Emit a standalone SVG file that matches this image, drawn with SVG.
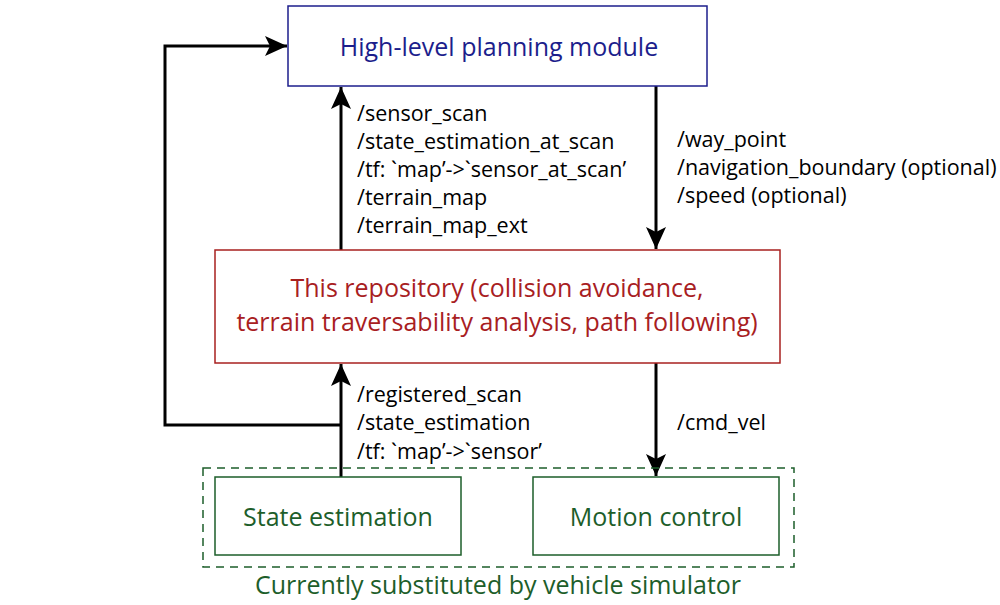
<svg xmlns="http://www.w3.org/2000/svg" width="1000" height="605" viewBox="0 0 1000 605">
<defs>
<marker id="arr" viewBox="0 0 22 20" refX="22" refY="10" markerWidth="22" markerHeight="20" markerUnits="userSpaceOnUse" orient="auto">
<path d="M0,0 L22,10 L0,20 L5,10 Z" fill="#000"/>
</marker>
<style>
.lbl{font-family:"Open Sans","Noto Sans",sans-serif;font-size:21.5px;fill:#000}
.box{fill:#fff;stroke-width:1.5}
.con{fill:none;stroke:#000;stroke-width:3}
.ttl{font-family:"Open Sans","Noto Sans",sans-serif;font-size:25px;text-anchor:middle}
</style>
</defs>
<rect width="1000" height="605" fill="#fff"/>
<g id="connectors">
<polyline class="con" points="341,425 165,425 165,46 287,46" marker-end="url(#arr)"/>
<line class="con" x1="341" y1="477" x2="341" y2="364" marker-end="url(#arr)"/>
<line class="con" x1="341" y1="250" x2="341" y2="87" marker-end="url(#arr)"/>
<line class="con" x1="656" y1="86" x2="656" y2="249" marker-end="url(#arr)"/>
<line class="con" x1="656" y1="363" x2="656" y2="476" marker-end="url(#arr)"/>
</g>
<g id="labels">
<text x="357" y="121" class="lbl">/sensor_scan</text>
<text x="357" y="149" class="lbl">/state_estimation_at_scan</text>
<text x="357" y="177" class="lbl">/tf: `map’-&gt;`sensor_at_scan’</text>
<text x="357" y="205" class="lbl">/terrain_map</text>
<text x="357" y="233" class="lbl">/terrain_map_ext</text>
<text x="677" y="147" class="lbl">/way_point</text>
<text x="677" y="175" class="lbl">/navigation_boundary (optional)</text>
<text x="677" y="203" class="lbl">/speed (optional)</text>
<text x="357" y="402" class="lbl">/registered_scan</text>
<text x="357" y="430" class="lbl">/state_estimation</text>
<text x="357" y="459" class="lbl">/tf: `map’-&gt;`sensor’</text>
<text x="677" y="430" class="lbl">/cmd_vel</text>
</g>
<g id="planning">
<rect class="box" x="288" y="6" width="419" height="80" stroke="#1c1e8c"/>
<text x="499" y="56" class="ttl" fill="#1c1e8c">High-level planning module</text>
</g>
<g id="repository">
<rect class="box" x="215" y="250" width="565" height="113" stroke="#a8201f"/>
<text x="497" y="297" class="ttl" fill="#a8201f">This repository (collision avoidance,</text>
<text x="497" y="331" class="ttl" fill="#a8201f">terrain traversability analysis, path following)</text>
</g>
<g id="simulator">
<rect x="203" y="468" width="591" height="99" fill="none" stroke="#1d5e2a" stroke-width="1.5" stroke-dasharray="8,6"/>
<text x="498" y="594" class="ttl" fill="#1d5e2a">Currently substituted by vehicle simulator</text>
</g>
<g id="state">
<rect class="box" x="215" y="477" width="246" height="78" stroke="#1d5e2a"/>
<text x="338" y="526" class="ttl" fill="#1d5e2a">State estimation</text>
</g>
<g id="motion">
<rect class="box" x="533" y="477" width="246" height="78" stroke="#1d5e2a"/>
<text x="656" y="526" class="ttl" fill="#1d5e2a">Motion control</text>
</g>
</svg>
